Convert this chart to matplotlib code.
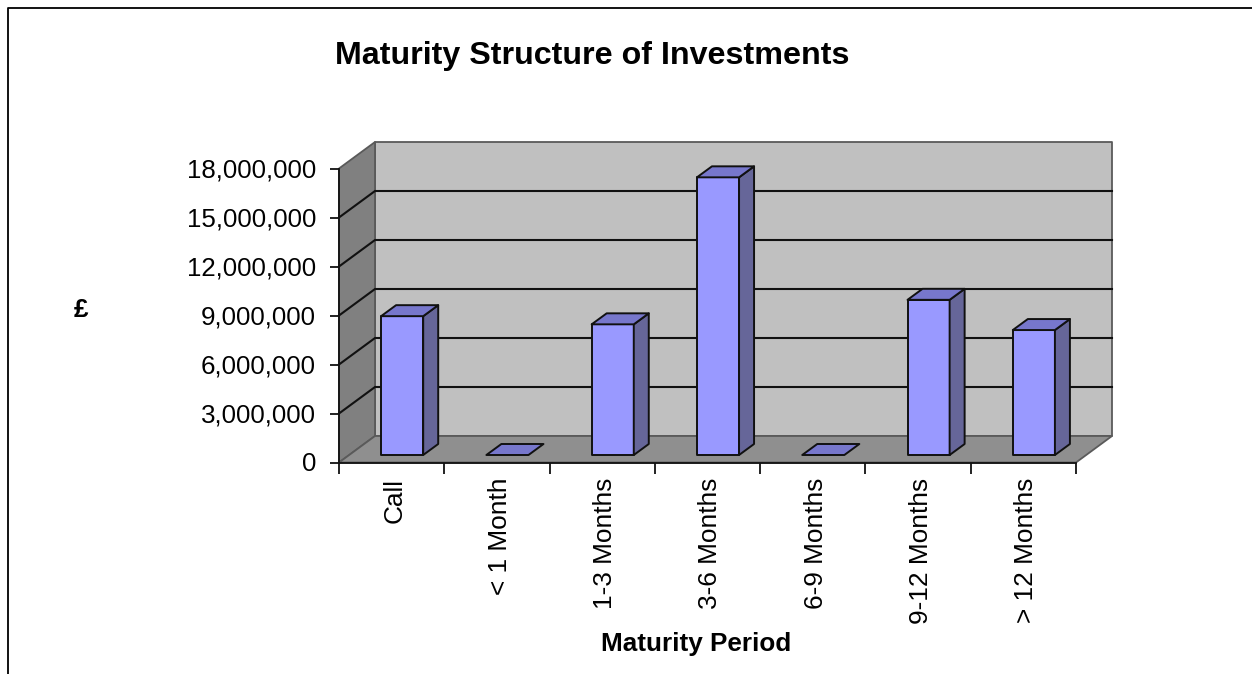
import matplotlib.pyplot as plt
from matplotlib.patches import Polygon

plt.rcParams['font.family'] = ['Liberation Sans', 'DejaVu Sans']

categories = ['Call', '< 1 Month', '1-3 Months', '3-6 Months', '6-9 Months', '9-12 Months', '> 12 Months']
values = [8500000, 0, 8000000, 17000000, 0, 9500000, 7650000]
y_ticks = [0, 3000000, 6000000, 9000000, 12000000, 15000000, 18000000]

W, H = 1252, 674
# front plane of the fake 3d box, in pixels
LEFT, RIGHT, BOTTOM, TOP = 339, 1076, 462.5, 168.5
n = len(categories)
y_max = y_ticks[-1]

# depth of the box and of the bars, in data units
dx = 36 / ((RIGHT - LEFT) / n)
dy = 26.5 / ((BOTTOM - TOP) / y_max)
bar_w = 0.4
bar_dx = dx * 15 / 36
bar_dy = dy * 11 / 26.5
off_x = dx * 10.5 / 36
off_y = dy * 7.5 / 26.5

WALL = '#c0c0c0'
SIDE = '#808080'
FLOOR = '#8f8f8f'
FRONT = '#9999ff'
TOPC = '#7777cc'
RIGHTC = '#666699'


def poly(ax, pts, color, edge='none', lw=0.0, z=1):
    ax.add_patch(Polygon(pts, closed=True, facecolor=color, edgecolor=edge, linewidth=lw,
                         zorder=z, clip_on=False, joinstyle='round'))


def draw_box(ax):
    # back wall, side wall, floor
    poly(ax, [(dx, dy), (n + dx, dy), (n + dx, y_max + dy), (dx, y_max + dy)], WALL, '#5a5a5a', 1.3, 1)
    poly(ax, [(0, 0), (dx, dy), (dx, y_max + dy), (0, y_max)], SIDE, '#5a5a5a', 1.3, 1)
    poly(ax, [(0, 0), (n, 0), (n + dx, dy), (dx, dy)], FLOOR, '#5a5a5a', 1.3, 1)
    # gridlines run along the side wall and then the back wall
    for t in y_ticks[1:-1]:
        ax.plot([0, dx, n + dx], [t, t + dy, t + dy], color='#111111', lw=1.5, zorder=2,
                clip_on=False, solid_joinstyle='miter')


def draw_bars(ax):
    for i, v in enumerate(values):
        x0 = i + 0.5 - bar_w / 2 + off_x
        x1 = x0 + bar_w
        y0 = off_y
        y1 = off_y + v
        kw = dict(edge='#111111', lw=1.4, z=3)
        if v > 0:
            poly(ax, [(x0, y0), (x1, y0), (x1, y1), (x0, y1)], FRONT, **kw)
            poly(ax, [(x1, y0), (x1 + bar_dx, y0 + bar_dy), (x1 + bar_dx, y1 + bar_dy), (x1, y1)], RIGHTC, **kw)
        poly(ax, [(x0, y1), (x1, y1), (x1 + bar_dx, y1 + bar_dy), (x0 + bar_dx, y1 + bar_dy)], TOPC, **kw)


def main():
    fig = plt.figure(figsize=(W / 100, H / 100), dpi=100)
    ax = fig.add_axes([LEFT / W, 1 - BOTTOM / H, (RIGHT - LEFT) / W, (BOTTOM - TOP) / H])
    ax.set_xlim(0, n)
    ax.set_ylim(0, y_max)
    ax.patch.set_visible(False)
    for side in ['top', 'right']:
        ax.spines[side].set_visible(False)
    for side in ['left', 'bottom']:
        ax.spines[side].set_linewidth(1.3)
        ax.spines[side].set_color('#111111')
        ax.spines[side].set_zorder(4)

    draw_box(ax)
    draw_bars(ax)

    ax.set_yticks(y_ticks)
    ax.set_yticklabels([])
    ax.tick_params(axis='y', length=6.5, width=1.3, color='#111111')
    for t in y_ticks:
        ax.annotate(f'{t:,}', xy=(0, t), xycoords=('axes fraction', 'data'), xytext=(-16.5, -1.3),
                    textcoords='offset points', ha='right', va='center', fontsize=18.6)

    ax.set_xticks(range(n + 1))
    ax.set_xticklabels([])
    ax.tick_params(axis='x', length=8, width=1.3, color='#111111')
    for i, c in enumerate(categories):
        ax.annotate(c, xy=(i + 0.5, 0), xycoords=('data', 'axes fraction'), xytext=(2.0, -11),
                    textcoords='offset points', rotation=90, ha='center', va='top', fontsize=18.9)

    fig.text(592.5 / W, 1 - 56 / H, 'Maturity Structure of Investments', fontsize=23.2, fontweight='bold',
             ha='center', va='center')
    fig.text(696 / W, 1 - 644 / H, 'Maturity Period', fontsize=18.8, fontweight='bold', ha='center', va='center')
    fig.text(81 / W, 1 - 310 / H, '£', fontsize=18.8, fontweight='bold', ha='center', va='center')

    # outer frame of the slide, cut off at right and bottom
    fig.add_artist(plt.Line2D([8 / W, 8 / W, 1], [0, 1 - 7.5 / H, 1 - 7.5 / H], color='black', lw=1.3))

    fig.savefig('out.png', dpi=100, facecolor='white')


if __name__ == "__main__":
    main()
